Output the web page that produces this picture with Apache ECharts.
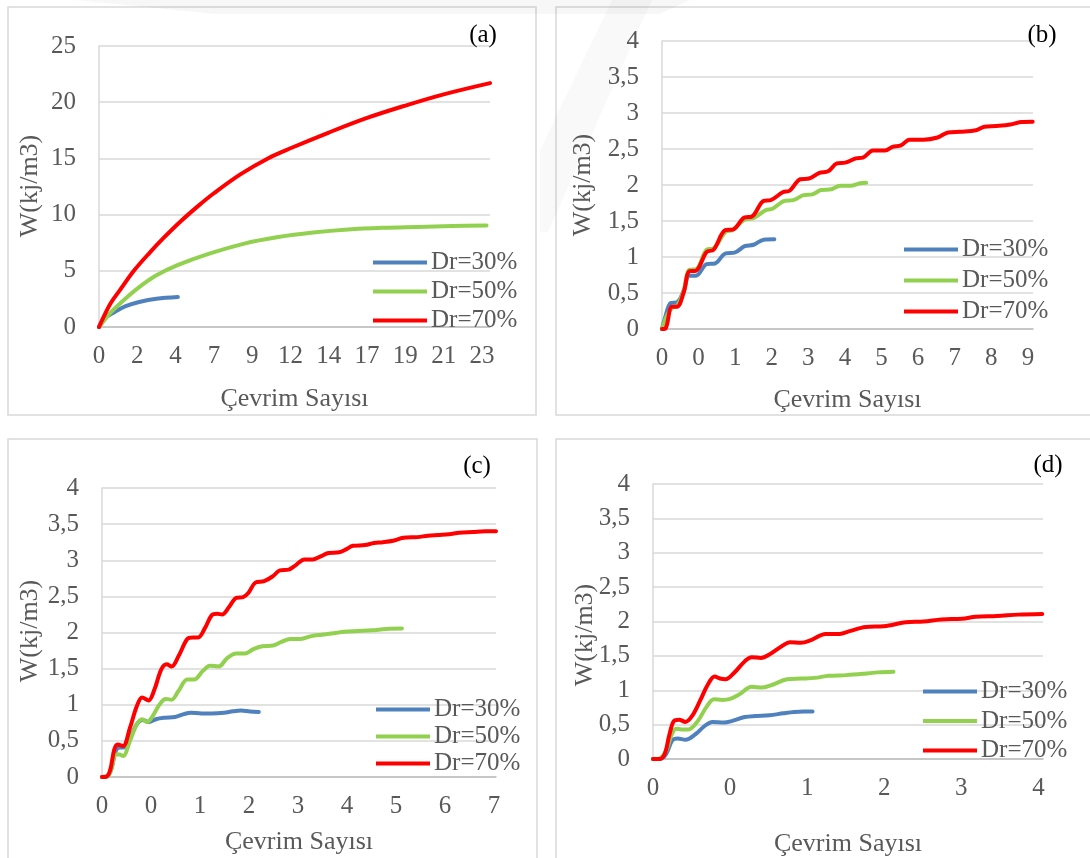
<!DOCTYPE html>
<html>
<head>
<meta charset="utf-8">
<script src="https://cdn.jsdelivr.net/npm/echarts@6/dist/echarts.min.js"></script>
<style>
  html, body { margin: 0; padding: 0; background: #ffffff; }
  #chart { width: 1090px; height: 858px; }
</style>
</head>
<body>
<div id="chart"></div>
<script>
// Cumulative dissipated energy W (kJ/m3) versus number of cycles (Çevrim Sayısı)
// Each point is [position along the cycle axis (in tick-label steps), W]

// ---- Panel (a) ----
const ticksA = ['0', '2', '4', '7', '9', '12', '14', '17', '19', '21', '23'];
const a30 = [[0,0],[0.14,0.74],[0.41,1.34],[0.68,1.84],[1.05,2.23],[1.5,2.52],[2.06,2.67]];
const a50 = [[0,0],[0.14,0.6],[0.32,1.35],[0.68,2.5],[1.05,3.55],[1.5,4.6],[2.05,5.5],[2.86,6.5],
  [3.77,7.4],[4.68,8.0],[5.59,8.4],[6.5,8.67],[7.41,8.82],[8.32,8.9],[9.23,8.98],[10.12,9.03]];
const a70 = [[0,0],[0.14,1.04],[0.32,2.2],[0.55,3.3],[0.91,5.0],[1.32,6.6],[1.68,7.9],[2.1,9.3],
  [2.6,10.8],[3.0,11.9],[3.7,13.6],[4.41,15.0],[5.0,15.9],[6.0,17.3],[7.0,18.6],[8.0,19.7],
  [9.0,20.7],[10.21,21.7]];

// ---- Panel (b) ----
const ticksB = ['0', '0', '1', '2', '3', '4', '5', '6', '7', '8', '9'];
const b30 = [[0,0],[0.08,0.15],[0.24,0.36],[0.41,0.37],[0.6,0.54],[0.74,0.74],[0.93,0.74],[1.22,0.9],
  [1.45,0.91],[1.74,1.05],[1.98,1.06],[2.26,1.15],[2.5,1.17],[2.78,1.24],[3.07,1.245]];
const b50 = [[0,0],[0.12,0.17],[0.27,0.29],[0.41,0.32],[0.6,0.54],[0.74,0.82],[0.93,0.83],[1.22,1.1],
  [1.41,1.12],[1.74,1.35],[1.93,1.375],[2.26,1.52],[2.5,1.54],[2.83,1.65],[3.02,1.67],[3.35,1.78],
  [3.59,1.79],[3.87,1.86],[4.11,1.87],[4.35,1.93],[4.63,1.94],[4.87,1.99],[5.16,1.99],[5.39,2.02],
  [5.58,2.03]];
const b70 = [[0,0],[0.1,0.01],[0.27,0.31],[0.41,0.31],[0.6,0.52],[0.74,0.8],[0.93,0.81],[1.22,1.07],
  [1.41,1.1],[1.74,1.375],[1.93,1.38],[2.26,1.55],[2.45,1.56],[2.78,1.78],[2.97,1.79],[3.3,1.9],
  [3.49,1.92],[3.78,2.08],[4.02,2.09],[4.3,2.17],[4.54,2.19],[4.78,2.3],[5.01,2.31],[5.3,2.37],
  [5.49,2.38],[5.77,2.48],[6.1,2.48],[6.3,2.53],[6.53,2.55],[6.77,2.63],[7.15,2.63],[7.53,2.66],
  [7.82,2.73],[8.15,2.74],[8.58,2.76],[8.81,2.81],[9.14,2.82],[9.52,2.84],[9.81,2.875],[10.13,2.88]];

// ---- Panel (c) ----
const ticksC = ['0', '0', '1', '2', '3', '4', '5', '6', '7'];
const c30 = [[0,0],[0.11,0.01],[0.19,0.11],[0.28,0.36],[0.36,0.41],[0.45,0.41],[0.57,0.54],[0.71,0.73],
  [0.83,0.79],[0.96,0.76],[1.1,0.8],[1.28,0.82],[1.49,0.83],[1.67,0.87],[1.81,0.89],[2.03,0.88],
  [2.24,0.88],[2.49,0.89],[2.67,0.91],[2.84,0.92],[3.02,0.905],[3.2,0.9]];
const c50 = [[0,0],[0.11,0.01],[0.19,0.11],[0.28,0.31],[0.36,0.31],[0.43,0.29],[0.57,0.5],[0.71,0.73],
  [0.82,0.8],[0.92,0.76],[1.03,0.84],[1.17,1.0],[1.3,1.08],[1.42,1.07],[1.56,1.19],[1.74,1.35],
  [1.88,1.35],[2.06,1.47],[2.2,1.54],[2.38,1.53],[2.56,1.65],[2.74,1.71],[2.92,1.71],[3.09,1.77],
  [3.27,1.81],[3.49,1.82],[3.66,1.87],[3.84,1.91],[4.05,1.91],[4.27,1.95],[4.48,1.97],[4.73,1.99],
  [4.94,2.01],[5.23,2.02],[5.51,2.03],[5.8,2.05],[6.12,2.055]];
const c70 = [[0,0],[0.07,0],[0.16,0.08],[0.25,0.38],[0.32,0.45],[0.43,0.43],[0.57,0.68],[0.71,0.98],
  [0.82,1.1],[0.95,1.06],[1.07,1.21],[1.21,1.49],[1.32,1.56],[1.42,1.53],[1.56,1.67],[1.74,1.91],
  [1.85,1.93],[1.96,1.93],[2.1,2.06],[2.24,2.24],[2.35,2.26],[2.45,2.25],[2.6,2.36],[2.74,2.48],
  [2.88,2.49],[2.99,2.55],[3.13,2.69],[3.31,2.71],[3.49,2.78],[3.63,2.86],[3.81,2.87],[3.95,2.93],
  [4.13,3.01],[4.3,3.01],[4.45,3.05],[4.62,3.1],[4.84,3.11],[4.98,3.15],[5.12,3.2],[5.37,3.21],
  [5.55,3.24],[5.73,3.25],[5.94,3.27],[6.15,3.31],[6.44,3.32],[6.65,3.34],[6.86,3.35],[7.08,3.36],
  [7.29,3.38],[7.57,3.39],[7.82,3.4],[8.04,3.4]];

// ---- Panel (d) ----
const ticksD = ['0', '0', '1', '2', '3', '4'];
const d30 = [[0,0],[0.09,0],[0.17,0.07],[0.25,0.27],[0.32,0.3],[0.42,0.28],[0.55,0.36],[0.67,0.48],
  [0.77,0.54],[0.92,0.53],[1.03,0.555],[1.19,0.61],[1.33,0.625],[1.51,0.635],[1.69,0.665],
  [1.83,0.685],[1.96,0.69],[2.07,0.69]];
const d50 = [[0,0],[0.09,0.01],[0.17,0.12],[0.24,0.35],[0.3,0.44],[0.37,0.43],[0.46,0.43],[0.58,0.55],
  [0.69,0.75],[0.79,0.87],[0.9,0.86],[0.99,0.87],[1.12,0.94],[1.28,1.05],[1.42,1.04],[1.55,1.08],
  [1.74,1.16],[1.92,1.17],[2.1,1.18],[2.28,1.21],[2.51,1.22],[2.74,1.24],[2.92,1.26],[3.12,1.27]];
const d70 = [[0,0],[0.08,0],[0.15,0.07],[0.21,0.34],[0.27,0.55],[0.34,0.57],[0.42,0.54],[0.51,0.63],
  [0.62,0.87],[0.71,1.08],[0.8,1.2],[0.87,1.17],[0.94,1.16],[1.05,1.25],[1.19,1.42],[1.28,1.48],
  [1.4,1.47],[1.51,1.52],[1.67,1.64],[1.78,1.7],[1.92,1.69],[2.05,1.73],[2.24,1.82],[2.42,1.82],
  [2.55,1.86],[2.76,1.92],[2.99,1.93],[3.1,1.95],[3.28,1.99],[3.51,2.0],[3.74,2.03],[4.01,2.04],
  [4.19,2.07],[4.46,2.08],[4.74,2.1],[5.05,2.11]];

const seriesNames = ['Dr=30%', 'Dr=50%', 'Dr=70%'];
const seriesColors = ['#4f81bd', '#92d050', '#ff0000'];

const FONT = '"Liberation Serif", "Times New Roman", serif';
const TEXT = '#595959';

// panel layout: plot rectangle, frame, axis extents, captions
const panels = [
  { tag: '(a)', ticks: ticksA, data: [a30, a50, a70], grid: { left: 99, top: 46, width: 391, height: 281 },
    xMax: 10.21, yMax: 25, yStep: 5, frame: [8, 7, 528, 408], tagPos: [483, 35],
    yTitle: [30, 186], xGap: 59, legend: [373, 250, 4] },
  { tag: '(b)', ticks: ticksB, data: [b30, b50, b70], grid: { left: 662, top: 41, width: 371, height: 288 },
    xMax: 10.14, yMax: 4, yStep: 0.5, frame: [556, 7, 560, 408], tagPos: [1042, 35],
    yTitle: [583, 185], xGap: 58, legend: [904, 237, 6] },
  { tag: '(c)', ticks: ticksC, data: [c30, c50, c70], grid: { left: 102, top: 488, width: 394, height: 289 },
    xMax: 8.04, yMax: 4, yStep: 0.5, frame: [8, 439, 529, 440], tagPos: [477, 466],
    yTitle: [30, 631], xGap: 52, legend: [376, 697, 2] },
  { tag: '(d)', ticks: ticksD, data: [d30, d50, d70], grid: { left: 653, top: 484, width: 390, height: 275 },
    xMax: 5.06, yMax: 4, yStep: 0.5, frame: [556, 439, 560, 440], tagPos: [1048, 465],
    yTitle: [585, 635], xGap: 72, legend: [923, 679, 4.5] }
];

const grid = [], xAxis = [], yAxis = [], series = [], legend = [], graphic = [];

panels.forEach(function (p, i) {
  graphic.push({
    type: 'rect', z: -10, silent: true,
    shape: { x: p.frame[0], y: p.frame[1], width: p.frame[2], height: p.frame[3] },
    style: { fill: '#ffffff', stroke: '#d9d9d9', lineWidth: 1.5 }
  });
  graphic.push({
    type: 'text', x: p.tagPos[0], y: p.tagPos[1], z: 5,
    style: { text: p.tag, font: '25px ' + FONT, fill: '#000000', textAlign: 'center', textVerticalAlign: 'middle' }
  });
  graphic.push({
    type: 'text', x: p.yTitle[0], y: p.yTitle[1], rotation: Math.PI / 2, z: 5,
    style: { text: 'W(kj/m3)', font: '26px ' + FONT, fill: TEXT, textAlign: 'center', textVerticalAlign: 'middle' }
  });

  grid.push(Object.assign({ containLabel: false }, p.grid));

  const ticks = p.ticks;
  xAxis.push({
    type: 'value', gridIndex: i, min: 0, max: p.xMax, interval: 1,
    name: 'Çevrim Sayısı', nameLocation: 'middle', nameGap: p.xGap,
    nameTextStyle: { fontFamily: FONT, fontSize: 26, color: TEXT },
    axisLine: { show: true, lineStyle: { color: '#bfbfbf', width: 1.5 } },
    axisTick: { show: false },
    splitLine: { show: false },
    axisLabel: {
      fontFamily: FONT, fontSize: 25, color: TEXT, margin: 17, showMaxLabel: true,
      formatter: function (v) {
        const k = Math.round(v);
        return Math.abs(v - k) < 1e-6 && k < ticks.length ? ticks[k] : '';
      }
    }
  });
  yAxis.push({
    type: 'value', gridIndex: i, min: 0, max: p.yMax, interval: p.yStep,
    axisLine: { show: true, lineStyle: { color: '#d9d9d9', width: 1.5 } },
    axisTick: { show: false },
    splitLine: { show: true, lineStyle: { color: '#d9d9d9', width: 1.5 } },
    axisLabel: {
      fontFamily: FONT, fontSize: 25, color: TEXT, margin: 23,
      formatter: function (v) { return String(v).replace('.', ','); }
    }
  });

  p.data.forEach(function (d, k) {
    series.push({
      name: seriesNames[k], type: 'line', xAxisIndex: i, yAxisIndex: i,
      data: d, smooth: 0.35, symbol: 'none', z: 2 + k,
      lineStyle: { color: seriesColors[k], width: 4, cap: 'round', join: 'round' },
      itemStyle: { color: seriesColors[k] }
    });
  });

  legend.push({
    data: seriesNames, orient: 'vertical', left: p.legend[0], top: p.legend[1],
    itemGap: p.legend[2], itemWidth: 54, itemHeight: 4, icon: 'rect', padding: 0,
    textStyle: { fontFamily: FONT, fontSize: 25, color: TEXT, lineHeight: 25, padding: [0, 0, 0, -1] },
    selectedMode: false
  });
});

// faint diagonal band printed across the top of the page
graphic.push({
  type: 'polygon', z: 1, silent: true,
  shape: { points: [[612, 0], [652, 0], [548, 232], [540, 232], [540, 150]] },
  style: { fill: 'rgba(0,0,0,0.022)' }
});
graphic.push({
  type: 'polygon', z: 1, silent: true,
  shape: { points: [[75, 0], [690, 0], [660, 14], [215, 14]] },
  style: { fill: 'rgba(0,0,0,0.03)' }
});

const chart = echarts.init(document.getElementById('chart'), null, { renderer: 'canvas' });
chart.setOption({
  backgroundColor: '#ffffff',
  animation: false,
  textStyle: { fontFamily: FONT },
  grid: grid, xAxis: xAxis, yAxis: yAxis, series: series, legend: legend, graphic: graphic
});
</script>
</body>
</html>
